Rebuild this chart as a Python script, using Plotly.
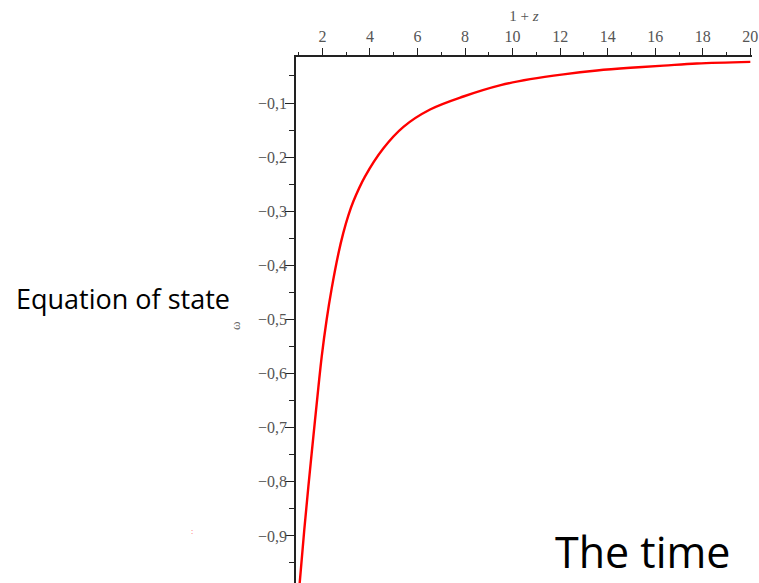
import plotly.graph_objects as go

# equation-of-state parameter w as a function of 1+z
one_plus_z = [1.02, 1.24, 1.41, 1.55, 1.69, 1.83, 1.97, 2.18, 2.39, 2.67, 2.88, 3.09,
              3.30, 3.79, 4.56, 5.41, 6.53, 7.93, 9.50, 10.74, 12.14, 13.55, 14.95,
              16.35, 17.75, 20.0]
w_values = [-1.000, -0.888, -0.809, -0.747, -0.686, -0.626, -0.569, -0.500, -0.443,
            -0.379, -0.340, -0.308, -0.282, -0.236, -0.184, -0.144, -0.112, -0.088,
            -0.067, -0.056, -0.047, -0.040, -0.035, -0.031, -0.027, -0.024]

x_ticks = [2, 4, 6, 8, 10, 12, 14, 16, 18, 20]
x_minor = [1, 3, 5, 7, 9, 11, 13, 15, 17, 19]
y_ticks = [-0.1, -0.2, -0.3, -0.4, -0.5, -0.6, -0.7, -0.8, -0.9]
y_tick_text = ["\u22120,1", "\u22120,2", "\u22120,3", "\u22120,4", "\u22120,5",
               "\u22120,6", "\u22120,7", "\u22120,8", "\u22120,9"]
y_minor = [-0.05, -0.15, -0.25, -0.35, -0.45, -0.55, -0.65, -0.75, -0.85, -0.95]

W, H = 759, 583
left, right, top, bottom = 296, 7, 57, 0

fig = go.Figure()
fig.add_trace(go.Scatter(
    x=one_plus_z, y=w_values, mode="lines",
    line=dict(color="#ff0000", width=2.4, shape="spline", smoothing=1.0),
    hoverinfo="skip", showlegend=False,
))

serif = "Liberation Serif, Times New Roman, serif"
tick_font = dict(family=serif, size=16, color="#555555")
axis_col = "#222222"

fig.update_layout(
    width=W, height=H,
    margin=dict(l=left, r=right, t=top, b=bottom, pad=0),
    paper_bgcolor="white", plot_bgcolor="white",
    xaxis=dict(
        side="top", range=[0.89, 20.07], showgrid=False, zeroline=False,
        showline=True, linecolor=axis_col, linewidth=1.5,
        tickmode="array", tickvals=x_ticks, ticktext=[str(t) for t in x_ticks],
        ticks="outside", ticklen=7, tickwidth=1.3, tickcolor=axis_col,
        minor=dict(tickmode="array", tickvals=x_minor,
                   ticks="outside", ticklen=3, tickwidth=1.3, tickcolor=axis_col),
        tickfont=tick_font, ticklabelstandoff=0,
        title=dict(text="1 + <i>z</i>", font=dict(family=serif, size=15, color="#555555"),
                   standoff=3),
    ),
    yaxis=dict(
        range=[-0.987, -0.015], showgrid=False, zeroline=False,
        showline=True, linecolor=axis_col, linewidth=1.5,
        tickmode="array", tickvals=y_ticks, ticktext=y_tick_text,
        ticks="outside", ticklen=9, tickwidth=1.3, tickcolor=axis_col,
        minor=dict(tickmode="array", tickvals=y_minor,
                   ticks="outside", ticklen=5, tickwidth=1.3, tickcolor=axis_col),
        tickfont=tick_font, ticklabelstandoff=-5,
    ),
)

sans = "Open Sans, Noto Sans, sans-serif"
# axis symbol and the slide caption texts, placed in pixels
labels = [
    dict(text="\u03c9", px=235, py=326, anchor="center", vanchor="middle", angle=-90,
         font=dict(family=serif, size=13, color="#666666")),
    dict(text="Equation of state", px=14, py=298, anchor="left", vanchor="middle", angle=0,
         font=dict(family=sans, size=27, color="#000000")),
    dict(text="The time", px=553, py=583, anchor="left", vanchor="bottom", angle=0,
         font=dict(family=sans, size=43, color="#000000")),
    dict(text=":", px=192, py=531, anchor="center", vanchor="middle", angle=0,
         font=dict(family=serif, size=8, color="#ff4444")),
]
for lab in labels:
    fig.add_annotation(
        text=lab["text"], showarrow=False, textangle=lab["angle"],
        xref="paper", yref="paper",
        x=(lab["px"] - left) / (W - left - right),
        y=(H - lab["py"] - bottom) / (H - top - bottom),
        xanchor=lab["anchor"], yanchor=lab["vanchor"], font=lab["font"],
    )

fig.write_html("out.html")
